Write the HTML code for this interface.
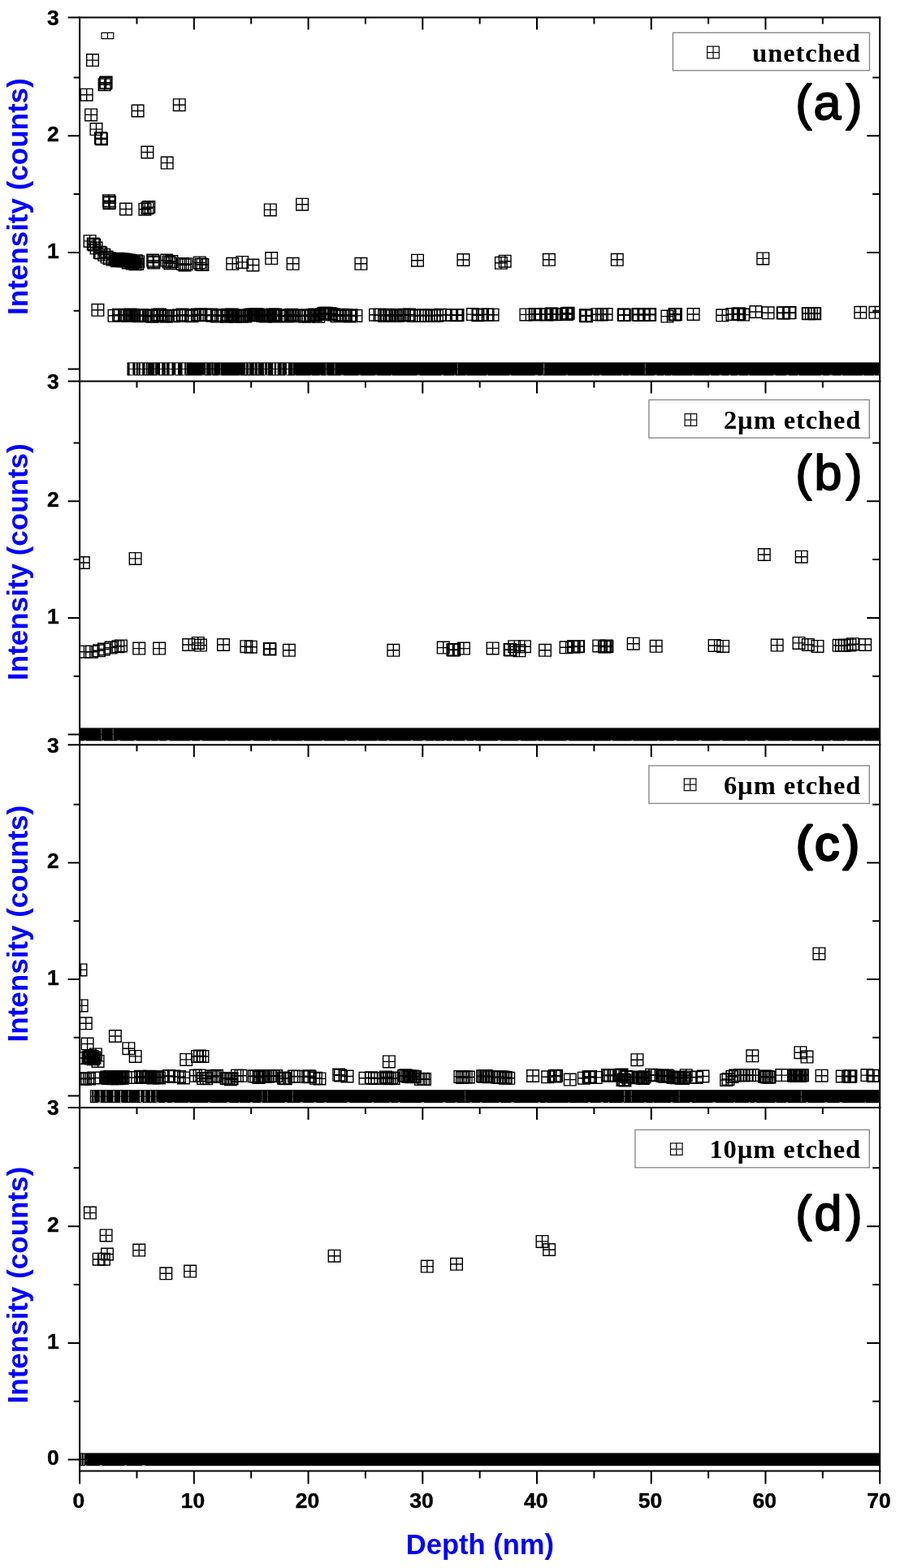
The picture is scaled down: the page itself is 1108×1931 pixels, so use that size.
<!DOCTYPE html>
<html lang="en"><head><meta charset="utf-8"><title>Depth profile</title>
<style>html,body{margin:0;padding:0;background:#fff}svg{display:block}.tk{font-family:"Liberation Sans",Arial,sans-serif;font-weight:bold;font-size:26.5px;fill:#000;stroke:#000;stroke-width:0.4px}.ax{font-family:"Liberation Sans",Arial,sans-serif;font-weight:bold;fill:#0000ff}.lg{font-family:"Liberation Serif","Times New Roman",serif;font-weight:bold;font-size:32.5px;letter-spacing:0.9px;fill:#000}.tg{font-family:"Liberation Sans",Arial,sans-serif;fill:#000;stroke:#000;stroke-linejoin:round}.tgb{font-family:"Liberation Sans",Arial,sans-serif;font-size:64px;font-weight:bold;fill:#000}</style></head><body>
<svg width="1108" height="1931" viewBox="0 0 1108 1931">
<defs><symbol id="m" overflow="visible"><path d="M-7.3-7.3H7.3V7.3H-7.3ZM0-7.3V7.3M-7.3 0H7.3" fill="none" stroke="#000" stroke-width="1.4"/></symbol>
<symbol id="s" overflow="visible"><path d="M-7.3-7.3H7.3V7.3H-7.3ZM0-7.3V7.3M-7.3 0H7.3" fill="none" stroke="#111" stroke-width="1.25"/></symbol>
</defs>
<rect width="1108" height="1931" fill="#fff"/>
<svg x="98.1" y="21.5" width="985.1" height="448.1" viewBox="98.1 21.5 985.1 448.1" overflow="hidden">
<rect x="156.5" y="446.29999999999995" width="927.5" height="16.2" fill="#000"/>
<path d="M125 40.3H139.8V47.6H125ZM132.4 40.3V47.6" fill="none" stroke="#000" stroke-width="1.2"/>
<rect x="159.6" y="447.4" width="3.68" height="6.5" fill="#fff" opacity="1"/>
<rect x="159.6" y="454.9" width="3.68" height="6.5" fill="#fff" opacity="1"/>
<rect x="166.5" y="447.4" width="1.28" height="6.5" fill="#fff" opacity="1"/>
<rect x="166.5" y="454.9" width="1.28" height="6.5" fill="#fff" opacity="1"/>
<rect x="169.7" y="447.4" width="1.04" height="6.5" fill="#fff" opacity="0.7"/>
<rect x="169.7" y="454.9" width="1.04" height="6.5" fill="#fff" opacity="0.7"/>
<rect x="172.8" y="447.4" width="2.32" height="6.5" fill="#fff" opacity="1"/>
<rect x="172.8" y="454.9" width="2.32" height="6.5" fill="#fff" opacity="1"/>
<rect x="178.5" y="447.4" width="1.2" height="6.5" fill="#fff" opacity="1"/>
<rect x="178.5" y="454.9" width="1.2" height="6.5" fill="#fff" opacity="1"/>
<rect x="181.4" y="447.4" width="0.8" height="6.5" fill="#fff" opacity="0.6"/>
<rect x="181.4" y="454.9" width="0.8" height="6.5" fill="#fff" opacity="0.6"/>
<rect x="190.3" y="447.4" width="0.88" height="6.5" fill="#fff" opacity="0.9"/>
<rect x="190.3" y="454.9" width="0.88" height="6.5" fill="#fff" opacity="0.9"/>
<rect x="197.0" y="447.4" width="2.08" height="6.5" fill="#fff" opacity="1"/>
<rect x="197.0" y="454.9" width="2.08" height="6.5" fill="#fff" opacity="1"/>
<rect x="203.7" y="447.4" width="1.12" height="6.5" fill="#fff" opacity="1"/>
<rect x="203.7" y="454.9" width="1.12" height="6.5" fill="#fff" opacity="1"/>
<rect x="208.6" y="447.4" width="2.88" height="6.5" fill="#fff" opacity="1"/>
<rect x="208.6" y="454.9" width="2.88" height="6.5" fill="#fff" opacity="1"/>
<rect x="216.3" y="447.4" width="2.64" height="6.5" fill="#fff" opacity="1"/>
<rect x="216.3" y="454.9" width="2.64" height="6.5" fill="#fff" opacity="1"/>
<rect x="224.5" y="447.4" width="2.64" height="6.5" fill="#fff" opacity="1"/>
<rect x="224.5" y="454.9" width="2.64" height="6.5" fill="#fff" opacity="1"/>
<rect x="228.7" y="447.4" width="0.96" height="6.5" fill="#fff" opacity="0.6"/>
<rect x="228.7" y="454.9" width="0.96" height="6.5" fill="#fff" opacity="0.6"/>
<rect x="253.0" y="447.4" width="1.2" height="6.5" fill="#fff" opacity="0.6"/>
<rect x="253.0" y="454.9" width="1.2" height="6.5" fill="#fff" opacity="0.6"/>
<rect x="259.6" y="447.4" width="0.88" height="6.5" fill="#fff" opacity="0.55"/>
<rect x="259.6" y="454.9" width="0.88" height="6.5" fill="#fff" opacity="0.55"/>
<rect x="262.6" y="447.4" width="0.88" height="6.5" fill="#fff" opacity="0.55"/>
<rect x="262.6" y="454.9" width="0.88" height="6.5" fill="#fff" opacity="0.55"/>
<rect x="270.9" y="447.4" width="0.8" height="6.5" fill="#fff" opacity="0.5"/>
<rect x="270.9" y="454.9" width="0.8" height="6.5" fill="#fff" opacity="0.5"/>
<rect x="302.0" y="447.4" width="1.04" height="6.5" fill="#fff" opacity="0.7"/>
<rect x="302.0" y="454.9" width="1.04" height="6.5" fill="#fff" opacity="0.7"/>
<rect x="306.0" y="447.4" width="1.04" height="6.5" fill="#fff" opacity="0.7"/>
<rect x="306.0" y="454.9" width="1.04" height="6.5" fill="#fff" opacity="0.7"/>
<rect x="312.7" y="447.4" width="1.12" height="6.5" fill="#fff" opacity="0.7"/>
<rect x="312.7" y="454.9" width="1.12" height="6.5" fill="#fff" opacity="0.7"/>
<rect x="316.9" y="447.4" width="1.04" height="6.5" fill="#fff" opacity="0.7"/>
<rect x="316.9" y="454.9" width="1.04" height="6.5" fill="#fff" opacity="0.7"/>
<rect x="324.9" y="447.4" width="1.28" height="6.5" fill="#fff" opacity="0.8"/>
<rect x="324.9" y="454.9" width="1.28" height="6.5" fill="#fff" opacity="0.8"/>
<rect x="329.0" y="447.4" width="1.04" height="6.5" fill="#fff" opacity="0.7"/>
<rect x="329.0" y="454.9" width="1.04" height="6.5" fill="#fff" opacity="0.7"/>
<rect x="336.0" y="447.4" width="1.76" height="6.5" fill="#fff" opacity="0.85"/>
<rect x="336.0" y="454.9" width="1.76" height="6.5" fill="#fff" opacity="0.85"/>
<rect x="340.0" y="447.4" width="1.76" height="6.5" fill="#fff" opacity="0.85"/>
<rect x="340.0" y="454.9" width="1.76" height="6.5" fill="#fff" opacity="0.85"/>
<rect x="346.6" y="447.4" width="1.04" height="6.5" fill="#fff" opacity="0.7"/>
<rect x="346.6" y="454.9" width="1.04" height="6.5" fill="#fff" opacity="0.7"/>
<rect x="352.9" y="447.4" width="2.08" height="6.5" fill="#fff" opacity="0.85"/>
<rect x="352.9" y="454.9" width="2.08" height="6.5" fill="#fff" opacity="0.85"/>
<rect x="360.3" y="447.4" width="0.8" height="6.5" fill="#fff" opacity="0.5"/>
<rect x="360.3" y="454.9" width="0.8" height="6.5" fill="#fff" opacity="0.5"/>
<rect x="400.9" y="447.4" width="0.8" height="6.5" fill="#fff" opacity="0.5"/>
<rect x="400.9" y="454.9" width="0.8" height="6.5" fill="#fff" opacity="0.5"/>
<rect x="411.7" y="447.4" width="0.8" height="6.5" fill="#fff" opacity="0.55"/>
<rect x="411.7" y="454.9" width="0.8" height="6.5" fill="#fff" opacity="0.55"/>
<rect x="562.8" y="447.4" width="0.8" height="6.5" fill="#fff" opacity="0.5"/>
<rect x="562.8" y="454.9" width="0.8" height="6.5" fill="#fff" opacity="0.5"/>
<rect x="669.3" y="447.4" width="0.88" height="6.5" fill="#fff" opacity="0.6"/>
<rect x="669.3" y="454.9" width="0.88" height="6.5" fill="#fff" opacity="0.6"/>
<rect x="793.8" y="447.4" width="0.8" height="6.5" fill="#fff" opacity="0.5"/>
<rect x="793.8" y="454.9" width="0.8" height="6.5" fill="#fff" opacity="0.5"/>
<rect x="162.1" y="461.6" width="2.8" height="1" fill="#fff" opacity="0.7"/>
<rect x="193.0" y="461.6" width="2.5" height="1" fill="#fff" opacity="0.7"/>
<rect x="213.2" y="461.6" width="2.8" height="1" fill="#fff" opacity="0.7"/>
<rect x="225.7" y="461.6" width="2.6" height="1" fill="#fff" opacity="0.7"/>
<rect x="249.0" y="461.6" width="3.4" height="1" fill="#fff" opacity="0.7"/>
<rect x="259.8" y="461.6" width="2.0" height="1" fill="#fff" opacity="0.7"/>
<rect x="269.1" y="461.6" width="3.5" height="1" fill="#fff" opacity="0.7"/>
<rect x="294.9" y="461.6" width="1.3" height="1" fill="#fff" opacity="0.7"/>
<rect x="325.8" y="461.6" width="3.9" height="1" fill="#fff" opacity="0.7"/>
<rect x="351.0" y="461.6" width="2.9" height="1" fill="#fff" opacity="0.7"/>
<rect x="362.9" y="461.6" width="1.2" height="1" fill="#fff" opacity="0.7"/>
<rect x="382.4" y="461.6" width="1.4" height="1" fill="#fff" opacity="0.7"/>
<rect x="393.5" y="461.6" width="1.9" height="1" fill="#fff" opacity="0.7"/>
<rect x="401.1" y="461.6" width="2.5" height="1" fill="#fff" opacity="0.7"/>
<rect x="419.6" y="461.6" width="3.6" height="1" fill="#fff" opacity="0.7"/>
<rect x="441.2" y="461.6" width="3.0" height="1" fill="#fff" opacity="0.7"/>
<rect x="461.6" y="461.6" width="3.1" height="1" fill="#fff" opacity="0.7"/>
<rect x="481.1" y="461.6" width="2.0" height="1" fill="#fff" opacity="0.7"/>
<rect x="513.1" y="461.6" width="4.0" height="1" fill="#fff" opacity="0.7"/>
<rect x="543.0" y="461.6" width="3.2" height="1" fill="#fff" opacity="0.7"/>
<rect x="559.1" y="461.6" width="1.8" height="1" fill="#fff" opacity="0.7"/>
<rect x="573.2" y="461.6" width="1.4" height="1" fill="#fff" opacity="0.7"/>
<rect x="598.7" y="461.6" width="2.3" height="1" fill="#fff" opacity="0.7"/>
<rect x="627.2" y="461.6" width="2.3" height="1" fill="#fff" opacity="0.7"/>
<rect x="658.5" y="461.6" width="3.6" height="1" fill="#fff" opacity="0.7"/>
<rect x="667.0" y="461.6" width="1.8" height="1" fill="#fff" opacity="0.7"/>
<rect x="696.6" y="461.6" width="2.5" height="1" fill="#fff" opacity="0.7"/>
<rect x="728.6" y="461.6" width="2.3" height="1" fill="#fff" opacity="0.7"/>
<rect x="737.7" y="461.6" width="3.0" height="1" fill="#fff" opacity="0.7"/>
<rect x="765.2" y="461.6" width="2.0" height="1" fill="#fff" opacity="0.7"/>
<rect x="774.3" y="461.6" width="2.1" height="1" fill="#fff" opacity="0.7"/>
<rect x="805.5" y="461.6" width="3.3" height="1" fill="#fff" opacity="0.7"/>
<rect x="816.8" y="461.6" width="1.9" height="1" fill="#fff" opacity="0.7"/>
<rect x="826.2" y="461.6" width="1.4" height="1" fill="#fff" opacity="0.7"/>
<rect x="852.5" y="461.6" width="1.7" height="1" fill="#fff" opacity="0.7"/>
<rect x="873.2" y="461.6" width="2.5" height="1" fill="#fff" opacity="0.7"/>
<rect x="885.4" y="461.6" width="3.2" height="1" fill="#fff" opacity="0.7"/>
<rect x="896.9" y="461.6" width="3.0" height="1" fill="#fff" opacity="0.7"/>
<rect x="907.9" y="461.6" width="2.4" height="1" fill="#fff" opacity="0.7"/>
<rect x="920.6" y="461.6" width="2.0" height="1" fill="#fff" opacity="0.7"/>
<rect x="951.8" y="461.6" width="3.4" height="1" fill="#fff" opacity="0.7"/>
<rect x="967.8" y="461.6" width="3.7" height="1" fill="#fff" opacity="0.7"/>
<rect x="981.8" y="461.6" width="2.3" height="1" fill="#fff" opacity="0.7"/>
<rect x="1010.5" y="461.6" width="3.0" height="1" fill="#fff" opacity="0.7"/>
<rect x="1021.0" y="461.6" width="4.0" height="1" fill="#fff" opacity="0.7"/>
<rect x="1035.3" y="461.6" width="1.9" height="1" fill="#fff" opacity="0.7"/>
<rect x="1061.5" y="461.6" width="2.1" height="1" fill="#fff" opacity="0.7"/>
<rect x="1076.0" y="461.6" width="1.4" height="1" fill="#fff" opacity="0.7"/>
<use href="#m" x="114" y="74.1"/>
<use href="#m" x="128.6" y="104.3"/>
<use href="#m" x="130" y="102.6"/>
<use href="#m" x="130.6" y="101.6"/>
<use href="#m" x="106.7" y="116.7"/>
<use href="#m" x="112.1" y="141.4"/>
<use href="#m" x="118.5" y="159.1"/>
<use href="#m" x="124" y="170.2"/>
<use href="#m" x="125" y="171.2"/>
<use href="#m" x="169.6" y="136.5"/>
<use href="#m" x="220.8" y="129.2"/>
<use href="#m" x="181.4" y="187.5"/>
<use href="#m" x="205.7" y="200.6"/>
<use href="#m" x="134" y="247.2"/>
<use href="#m" x="135" y="248.8"/>
<use href="#m" x="134.4" y="250.2"/>
<use href="#m" x="155" y="257.5"/>
<use href="#m" x="178.4" y="257.7"/>
<use href="#m" x="181.6" y="256.3"/>
<use href="#m" x="183.3" y="255.1"/>
<use href="#m" x="332.8" y="258.4"/>
<use href="#m" x="372.1" y="251.7"/>
<use href="#m" x="110.6" y="296.9"/>
<use href="#m" x="114.8" y="300.4"/>
<use href="#m" x="116.2" y="301.6"/>
<use href="#m" x="118.6" y="305.6"/>
<use href="#m" x="122.6" y="310.8"/>
<use href="#m" x="124.2" y="311.4"/>
<use href="#m" x="128.2" y="313.8"/>
<use href="#m" x="131.6" y="316.6"/>
<use href="#m" x="134.7" y="318.2"/>
<use href="#m" x="138.5" y="319.6"/>
<use href="#m" x="141.5" y="319.5"/>
<use href="#m" x="142.8" y="318.9"/>
<use href="#m" x="144.0" y="321.2"/>
<use href="#m" x="145.2" y="318.8"/>
<use href="#m" x="146.5" y="321.0"/>
<use href="#m" x="147.8" y="320.4"/>
<use href="#m" x="149.0" y="319.2"/>
<use href="#m" x="150.2" y="321.3"/>
<use href="#m" x="151.5" y="319.4"/>
<use href="#m" x="152.8" y="321.2"/>
<use href="#m" x="154.0" y="319.8"/>
<use href="#m" x="155.2" y="320.0"/>
<use href="#m" x="156.5" y="321.6"/>
<use href="#m" x="157.8" y="323.5"/>
<use href="#m" x="159.0" y="320.6"/>
<use href="#m" x="160.2" y="321.2"/>
<use href="#m" x="161.5" y="323.1"/>
<use href="#m" x="162.8" y="324.6"/>
<use href="#m" x="164.0" y="323.1"/>
<use href="#m" x="165.2" y="322.5"/>
<use href="#m" x="166.5" y="325.2"/>
<use href="#m" x="167.8" y="321.2"/>
<use href="#m" x="169.0" y="325.0"/>
<use href="#m" x="170.2" y="322.6"/>
<use href="#m" x="188.2" y="320.6"/>
<use href="#m" x="188.8" y="322.2"/>
<use href="#m" x="189.4" y="323.6"/>
<use href="#m" x="205.2" y="320.6"/>
<use href="#m" x="207.6" y="322.6"/>
<use href="#m" x="209.4" y="324.2"/>
<use href="#m" x="211.4" y="322"/>
<use href="#m" x="224.8" y="325"/>
<use href="#m" x="227.4" y="326.4"/>
<use href="#m" x="229.4" y="325.2"/>
<use href="#m" x="245.8" y="323.4"/>
<use href="#m" x="247.6" y="325.4"/>
<use href="#m" x="249.4" y="326"/>
<use href="#m" x="286.2" y="324.8"/>
<use href="#m" x="298.2" y="322.9"/>
<use href="#m" x="311.4" y="326.5"/>
<use href="#m" x="334.2" y="318.1"/>
<use href="#m" x="360.6" y="324.8"/>
<use href="#m" x="444.4" y="324.8"/>
<use href="#m" x="514" y="320.7"/>
<use href="#m" x="570.4" y="320"/>
<use href="#m" x="616.9" y="323.8"/>
<use href="#m" x="621.7" y="321.7"/>
<use href="#m" x="675.9" y="319.8"/>
<use href="#m" x="759.8" y="319.8"/>
<use href="#m" x="939.3" y="318.4"/>
<use href="#m" x="120.4" y="381.8"/>
<use href="#m" x="140.5" y="388.8"/>
<use href="#m" x="146" y="387.8"/>
<use href="#m" x="147.7" y="388.2"/>
<use href="#m" x="153.2" y="387.9"/>
<use href="#m" x="156.8" y="388.9"/>
<use href="#m" x="159.2" y="388.7"/>
<use href="#m" x="160.8" y="387.6"/>
<use href="#m" x="162.7" y="389.0"/>
<use href="#m" x="165.4" y="388.2"/>
<use href="#m" x="169.0" y="388.5"/>
<use href="#m" x="171.1" y="389.2"/>
<use href="#m" x="175.6" y="388.0"/>
<use href="#m" x="179.2" y="388.7"/>
<use href="#m" x="185.3" y="389.1"/>
<use href="#m" x="187.4" y="389.7"/>
<use href="#m" x="189.1" y="388.4"/>
<use href="#m" x="194.0" y="387.8"/>
<use href="#m" x="197.0" y="387.6"/>
<use href="#m" x="201.3" y="389.2"/>
<use href="#m" x="204.8" y="389.4"/>
<use href="#m" x="207.0" y="389.0"/>
<use href="#m" x="210.7" y="388.8"/>
<use href="#m" x="213.5" y="389.3"/>
<use href="#m" x="220.4" y="388.5"/>
<use href="#m" x="224.6" y="387.6"/>
<use href="#m" x="229.1" y="388.9"/>
<use href="#m" x="236.5" y="389.3"/>
<use href="#m" x="238.6" y="388.3"/>
<use href="#m" x="242.8" y="387.5"/>
<use href="#m" x="245.7" y="387.9"/>
<use href="#m" x="247.4" y="387.6"/>
<use href="#m" x="253" y="387.7"/>
<use href="#m" x="254.3" y="388.3"/>
<use href="#m" x="259.5" y="387.6"/>
<use href="#m" x="261.6" y="388.7"/>
<use href="#m" x="266.9" y="389.4"/>
<use href="#m" x="272.0" y="388.1"/>
<use href="#m" x="274.0" y="388.3"/>
<use href="#m" x="279.3" y="389.7"/>
<use href="#m" x="280.4" y="387.8"/>
<use href="#m" x="281.7" y="388.0"/>
<use href="#m" x="284.0" y="388.8"/>
<use href="#m" x="285.4" y="387.4"/>
<use href="#m" x="287.3" y="388.3"/>
<use href="#m" x="290.1" y="389.7"/>
<use href="#m" x="293.7" y="388.6"/>
<use href="#m" x="296.8" y="389.0"/>
<use href="#m" x="297.8" y="389.6"/>
<use href="#m" x="302.2" y="389.5"/>
<use href="#m" x="306.7" y="388.3"/>
<use href="#m" x="308.6" y="387.6"/>
<use href="#m" x="311.8" y="387.5"/>
<use href="#m" x="312.8" y="387.9"/>
<use href="#m" x="313.9" y="388.2"/>
<use href="#m" x="315.0" y="387.4"/>
<use href="#m" x="316.1" y="387.6"/>
<use href="#m" x="317.8" y="387.5"/>
<use href="#m" x="323.0" y="388.9"/>
<use href="#m" x="324.1" y="388.0"/>
<use href="#m" x="325.8" y="388.3"/>
<use href="#m" x="326.9" y="389.4"/>
<use href="#m" x="333.3" y="388.5"/>
<use href="#m" x="335.6" y="387.6"/>
<use href="#m" x="336.6" y="388.2"/>
<use href="#m" x="338.0" y="389.4"/>
<use href="#m" x="339.2" y="387.5"/>
<use href="#m" x="345.1" y="388.7"/>
<use href="#m" x="346.3" y="388.7"/>
<use href="#m" x="347.3" y="388.7"/>
<use href="#m" x="353.5" y="389.5"/>
<use href="#m" x="357.2" y="388.0"/>
<use href="#m" x="358.9" y="387.8"/>
<use href="#m" x="363.2" y="388.7"/>
<use href="#m" x="367.6" y="388.2"/>
<use href="#m" x="368.8" y="389.3"/>
<use href="#m" x="375.2" y="389.4"/>
<use href="#m" x="379.7" y="389.4"/>
<use href="#m" x="383.8" y="387.9"/>
<use href="#m" x="386.2" y="388.3"/>
<use href="#m" x="387.2" y="387.5"/>
<use href="#m" x="388.7" y="388.0"/>
<use href="#m" x="392.3" y="389.7"/>
<use href="#m" x="396.5" y="387.0"/>
<use href="#m" x="398.5" y="386.0"/>
<use href="#m" x="399.7" y="385.8"/>
<use href="#m" x="401.6" y="385.7"/>
<use href="#m" x="404.1" y="386.8"/>
<use href="#m" x="406.4" y="386.2"/>
<use href="#m" x="408.2" y="386.7"/>
<use href="#m" x="411" y="387.5"/>
<use href="#m" x="414.5" y="389.3"/>
<use href="#m" x="419.0" y="389.0"/>
<use href="#m" x="421.4" y="387.7"/>
<use href="#m" x="425.9" y="388.0"/>
<use href="#m" x="430.5" y="389.4"/>
<use href="#m" x="432.5" y="388.2"/>
<use href="#m" x="438.4" y="388.9"/>
<use href="#m" x="462" y="387.7"/>
<use href="#m" x="467.5" y="387.7"/>
<use href="#m" x="473" y="388.9"/>
<use href="#m" x="476" y="388.8"/>
<use href="#m" x="479" y="387.7"/>
<use href="#m" x="482" y="388.8"/>
<use href="#m" x="487" y="389.1"/>
<use href="#m" x="490" y="388.6"/>
<use href="#m" x="492.5" y="388.1"/>
<use href="#m" x="495" y="388.4"/>
<use href="#m" x="498" y="387.7"/>
<use href="#m" x="504" y="387.5"/>
<use href="#m" x="509.5" y="389.1"/>
<use href="#m" x="517" y="388.5"/>
<use href="#m" x="521" y="388.3"/>
<use href="#m" x="525" y="389.0"/>
<use href="#m" x="531" y="388.2"/>
<use href="#m" x="535" y="388.9"/>
<use href="#m" x="538" y="388.8"/>
<use href="#m" x="542" y="387.8"/>
<use href="#m" x="549" y="387.9"/>
<use href="#m" x="556" y="388.0"/>
<use href="#m" x="561.8" y="387.9"/>
<use href="#m" x="562.4" y="388.3"/>
<use href="#m" x="563" y="388.0"/>
<use href="#m" x="563.5" y="388.1"/>
<use href="#m" x="582" y="387.1"/>
<use href="#m" x="588.4" y="388.2"/>
<use href="#m" x="594" y="387.4"/>
<use href="#m" x="600.6" y="387.5"/>
<use href="#m" x="606.6" y="387.7"/>
<use href="#m" x="647.4" y="387.4"/>
<use href="#m" x="659.3" y="387.1"/>
<use href="#m" x="659.3" y="387.2"/>
<use href="#m" x="658.6" y="387.2"/>
<use href="#m" x="664.5" y="387"/>
<use href="#m" x="673.5" y="387.4"/>
<use href="#m" x="684.5" y="387.2"/>
<use href="#m" x="678.2" y="387.0"/>
<use href="#m" x="678.5" y="386.6"/>
<use href="#m" x="679.5" y="386.7"/>
<use href="#m" x="697.8" y="386.8"/>
<use href="#m" x="698.3" y="386.1"/>
<use href="#m" x="698.1" y="386.5"/>
<use href="#m" x="699.7" y="385.7"/>
<use href="#m" x="698.4" y="385.9"/>
<use href="#m" x="696.7" y="386.9"/>
<use href="#m" x="698.0" y="386.5"/>
<use href="#m" x="722.1" y="389.2"/>
<use href="#m" x="720.8" y="388.8"/>
<use href="#m" x="721.0" y="388.6"/>
<use href="#m" x="721.8" y="388.5"/>
<use href="#m" x="721.1" y="388.6"/>
<use href="#m" x="735.6" y="387.2"/>
<use href="#m" x="741" y="387.5"/>
<use href="#m" x="746.6" y="387"/>
<use href="#m" x="768.6" y="387.8"/>
<use href="#m" x="768.5" y="388.0"/>
<use href="#m" x="767.7" y="387.6"/>
<use href="#m" x="786.7" y="387.9"/>
<use href="#m" x="785.4" y="387.3"/>
<use href="#m" x="785.9" y="387.3"/>
<use href="#m" x="799.2" y="387.3"/>
<use href="#m" x="799.9" y="387.8"/>
<use href="#m" x="800.2" y="387.3"/>
<use href="#m" x="792.5" y="387.8"/>
<use href="#m" x="821.4" y="389.6"/>
<use href="#m" x="831.4" y="387.3"/>
<use href="#m" x="830.4" y="387.5"/>
<use href="#m" x="831.8" y="387.0"/>
<use href="#m" x="831.8" y="387.1"/>
<use href="#m" x="853.6" y="387"/>
<use href="#m" x="889.2" y="388.3"/>
<use href="#m" x="901.4" y="387"/>
<use href="#m" x="908.6" y="386.6"/>
<use href="#m" x="909.5" y="387"/>
<use href="#m" x="910.4" y="386.4"/>
<use href="#m" x="915" y="387.6"/>
<use href="#m" x="930.4" y="384"/>
<use href="#m" x="945.6" y="385.3"/>
<use href="#m" x="963.7" y="385.2"/>
<use href="#m" x="964.6" y="385.5"/>
<use href="#m" x="971.8" y="385.3"/>
<use href="#m" x="972.5" y="385.1"/>
<use href="#m" x="994.8" y="386"/>
<use href="#m" x="995.6" y="386.3"/>
<use href="#m" x="1002.4" y="386"/>
<use href="#m" x="1003.2" y="386.2"/>
<use href="#m" x="998.9" y="386.1"/>
<use href="#m" x="1059.3" y="384.8"/>
<use href="#m" x="1077.4" y="384.8"/>
</svg>
<svg x="98.1" y="469.6" width="985.1" height="447.6" viewBox="98.1 469.6 985.1 447.6" overflow="hidden">
<rect x="97" y="896.4" width="987" height="16" fill="#000"/>
<rect x="124.4" y="897.5" width="0.8" height="6.4" fill="#fff" opacity="0.55"/>
<rect x="124.4" y="904.9" width="0.8" height="6.4" fill="#fff" opacity="0.55"/>
<rect x="138.8" y="897.5" width="0.8" height="6.4" fill="#fff" opacity="0.55"/>
<rect x="138.8" y="904.9" width="0.8" height="6.4" fill="#fff" opacity="0.55"/>
<rect x="103.7" y="911.5" width="1.9" height="1" fill="#fff" opacity="0.7"/>
<rect x="125.6" y="911.5" width="2.2" height="1" fill="#fff" opacity="0.7"/>
<rect x="144.1" y="911.5" width="3.9" height="1" fill="#fff" opacity="0.7"/>
<rect x="165.1" y="911.5" width="2.8" height="1" fill="#fff" opacity="0.7"/>
<rect x="194.6" y="911.5" width="1.7" height="1" fill="#fff" opacity="0.7"/>
<rect x="205.2" y="911.5" width="3.7" height="1" fill="#fff" opacity="0.7"/>
<rect x="234.3" y="911.5" width="1.9" height="1" fill="#fff" opacity="0.7"/>
<rect x="246.0" y="911.5" width="3.3" height="1" fill="#fff" opacity="0.7"/>
<rect x="277.8" y="911.5" width="1.8" height="1" fill="#fff" opacity="0.7"/>
<rect x="308.3" y="911.5" width="3.7" height="1" fill="#fff" opacity="0.7"/>
<rect x="332.0" y="911.5" width="2.4" height="1" fill="#fff" opacity="0.7"/>
<rect x="342.0" y="911.5" width="1.3" height="1" fill="#fff" opacity="0.7"/>
<rect x="372.4" y="911.5" width="1.9" height="1" fill="#fff" opacity="0.7"/>
<rect x="396.9" y="911.5" width="1.9" height="1" fill="#fff" opacity="0.7"/>
<rect x="424.4" y="911.5" width="2.9" height="1" fill="#fff" opacity="0.7"/>
<rect x="439.6" y="911.5" width="1.7" height="1" fill="#fff" opacity="0.7"/>
<rect x="464.3" y="911.5" width="1.4" height="1" fill="#fff" opacity="0.7"/>
<rect x="476.4" y="911.5" width="2.8" height="1" fill="#fff" opacity="0.7"/>
<rect x="505.5" y="911.5" width="2.9" height="1" fill="#fff" opacity="0.7"/>
<rect x="520.4" y="911.5" width="3.8" height="1" fill="#fff" opacity="0.7"/>
<rect x="534.3" y="911.5" width="1.2" height="1" fill="#fff" opacity="0.7"/>
<rect x="547.2" y="911.5" width="2.4" height="1" fill="#fff" opacity="0.7"/>
<rect x="556.2" y="911.5" width="1.7" height="1" fill="#fff" opacity="0.7"/>
<rect x="572.1" y="911.5" width="2.8" height="1" fill="#fff" opacity="0.7"/>
<rect x="583.2" y="911.5" width="2.2" height="1" fill="#fff" opacity="0.7"/>
<rect x="612.7" y="911.5" width="3.9" height="1" fill="#fff" opacity="0.7"/>
<rect x="638.1" y="911.5" width="3.1" height="1" fill="#fff" opacity="0.7"/>
<rect x="660.8" y="911.5" width="1.6" height="1" fill="#fff" opacity="0.7"/>
<rect x="668.3" y="911.5" width="1.3" height="1" fill="#fff" opacity="0.7"/>
<rect x="697.3" y="911.5" width="3.2" height="1" fill="#fff" opacity="0.7"/>
<rect x="729.5" y="911.5" width="1.3" height="1" fill="#fff" opacity="0.7"/>
<rect x="751.7" y="911.5" width="2.6" height="1" fill="#fff" opacity="0.7"/>
<rect x="777.5" y="911.5" width="2.1" height="1" fill="#fff" opacity="0.7"/>
<rect x="809.6" y="911.5" width="1.4" height="1" fill="#fff" opacity="0.7"/>
<rect x="829.6" y="911.5" width="3.3" height="1" fill="#fff" opacity="0.7"/>
<rect x="860.4" y="911.5" width="3.3" height="1" fill="#fff" opacity="0.7"/>
<rect x="886.3" y="911.5" width="3.4" height="1" fill="#fff" opacity="0.7"/>
<rect x="917.5" y="911.5" width="2.2" height="1" fill="#fff" opacity="0.7"/>
<rect x="941.9" y="911.5" width="3.7" height="1" fill="#fff" opacity="0.7"/>
<rect x="972.4" y="911.5" width="2.4" height="1" fill="#fff" opacity="0.7"/>
<rect x="999.5" y="911.5" width="3.6" height="1" fill="#fff" opacity="0.7"/>
<rect x="1022.4" y="911.5" width="2.9" height="1" fill="#fff" opacity="0.7"/>
<rect x="1039.9" y="911.5" width="2.8" height="1" fill="#fff" opacity="0.7"/>
<rect x="1063.0" y="911.5" width="1.4" height="1" fill="#fff" opacity="0.7"/>
<use href="#m" x="102.8" y="693"/>
<use href="#m" x="166.6" y="687.9"/>
<use href="#m" x="940.8" y="683"/>
<use href="#m" x="986.7" y="685.7"/>
<use href="#m" x="103.5" y="802.7"/>
<use href="#m" x="113" y="802.7"/>
<use href="#m" x="122" y="801.3"/>
<use href="#m" x="127.9" y="799.5"/>
<use href="#m" x="136.6" y="797.6"/>
<use href="#m" x="145.5" y="796.2"/>
<use href="#m" x="149" y="795.4"/>
<use href="#m" x="171.2" y="798.6"/>
<use href="#m" x="196.1" y="798.6"/>
<use href="#m" x="232.2" y="794"/>
<use href="#m" x="243.8" y="791.9"/>
<use href="#m" x="247" y="794.6"/>
<use href="#m" x="275" y="794"/>
<use href="#m" x="303.4" y="796.2"/>
<use href="#m" x="308.8" y="796.7"/>
<use href="#m" x="331.8" y="798.9"/>
<use href="#m" x="332.5" y="799.5"/>
<use href="#m" x="355.9" y="800.8"/>
<use href="#m" x="484.3" y="800.8"/>
<use href="#m" x="545.7" y="797.6"/>
<use href="#m" x="557.4" y="800.3"/>
<use href="#m" x="558.5" y="800.6"/>
<use href="#m" x="559.2" y="800"/>
<use href="#m" x="570.9" y="798.6"/>
<use href="#m" x="606.6" y="798.4"/>
<use href="#m" x="627.6" y="800"/>
<use href="#m" x="628.6" y="800.4"/>
<use href="#m" x="633.2" y="796.2"/>
<use href="#m" x="639.4" y="801.3"/>
<use href="#m" x="645.9" y="796.2"/>
<use href="#m" x="671" y="800.8"/>
<use href="#m" x="696.6" y="797.3"/>
<use href="#m" x="706" y="796.2"/>
<use href="#m" x="706.8" y="796.6"/>
<use href="#m" x="711.4" y="796.2"/>
<use href="#m" x="712" y="796"/>
<use href="#m" x="737.2" y="795.4"/>
<use href="#m" x="743.9" y="796.2"/>
<use href="#m" x="745" y="796.6"/>
<use href="#m" x="746.7" y="795.4"/>
<use href="#m" x="747.4" y="796"/>
<use href="#m" x="779.7" y="792.7"/>
<use href="#m" x="807.7" y="795.8"/>
<use href="#m" x="879.6" y="795"/>
<use href="#m" x="890.1" y="795.9"/>
<use href="#m" x="956.7" y="794.6"/>
<use href="#m" x="983.5" y="791.9"/>
<use href="#m" x="994.8" y="794"/>
<use href="#m" x="1006.5" y="795.9"/>
<use href="#m" x="1032.7" y="794.8"/>
<use href="#m" x="1036" y="795"/>
<use href="#m" x="1039.5" y="794.8"/>
<use href="#m" x="1046.5" y="794.4"/>
<use href="#m" x="1049.8" y="793.2"/>
<use href="#m" x="1065.2" y="794"/>
</svg>
<svg x="98.1" y="917.2" width="985.1" height="446.8" viewBox="98.1 917.2 985.1 446.8" overflow="hidden">
<rect x="110.8" y="1342.2" width="973.2" height="16" fill="#000"/>
<rect x="112.2" y="1343.3" width="0.81" height="6.4" fill="#fff" opacity="0.8"/>
<rect x="112.2" y="1350.7" width="0.81" height="6.4" fill="#fff" opacity="0.8"/>
<rect x="115.4" y="1343.3" width="0.81" height="6.4" fill="#fff" opacity="0.8"/>
<rect x="115.4" y="1350.7" width="0.81" height="6.4" fill="#fff" opacity="0.8"/>
<rect x="122.7" y="1343.3" width="0.93" height="6.4" fill="#fff" opacity="0.85"/>
<rect x="122.7" y="1350.7" width="0.93" height="6.4" fill="#fff" opacity="0.85"/>
<rect x="130.2" y="1343.3" width="0.81" height="6.4" fill="#fff" opacity="0.8"/>
<rect x="130.2" y="1350.7" width="0.81" height="6.4" fill="#fff" opacity="0.8"/>
<rect x="139.5" y="1343.3" width="1.18" height="6.4" fill="#fff" opacity="0.9"/>
<rect x="139.5" y="1350.7" width="1.18" height="6.4" fill="#fff" opacity="0.9"/>
<rect x="148.2" y="1343.3" width="0.93" height="6.4" fill="#fff" opacity="0.85"/>
<rect x="148.2" y="1350.7" width="0.93" height="6.4" fill="#fff" opacity="0.85"/>
<rect x="157.8" y="1343.3" width="0.74" height="6.4" fill="#fff" opacity="0.8"/>
<rect x="157.8" y="1350.7" width="0.74" height="6.4" fill="#fff" opacity="0.8"/>
<rect x="172.2" y="1343.3" width="1.18" height="6.4" fill="#fff" opacity="0.9"/>
<rect x="172.2" y="1350.7" width="1.18" height="6.4" fill="#fff" opacity="0.9"/>
<rect x="178.0" y="1343.3" width="0.93" height="6.4" fill="#fff" opacity="0.85"/>
<rect x="178.0" y="1350.7" width="0.93" height="6.4" fill="#fff" opacity="0.85"/>
<rect x="184.8" y="1343.3" width="0.93" height="6.4" fill="#fff" opacity="0.85"/>
<rect x="184.8" y="1350.7" width="0.93" height="6.4" fill="#fff" opacity="0.85"/>
<rect x="191.6" y="1343.3" width="0.74" height="6.4" fill="#fff" opacity="0.8"/>
<rect x="191.6" y="1350.7" width="0.74" height="6.4" fill="#fff" opacity="0.8"/>
<rect x="322.6" y="1343.3" width="0.62" height="6.4" fill="#fff" opacity="0.5"/>
<rect x="322.6" y="1350.7" width="0.62" height="6.4" fill="#fff" opacity="0.5"/>
<rect x="329.4" y="1343.3" width="0.62" height="6.4" fill="#fff" opacity="0.5"/>
<rect x="329.4" y="1350.7" width="0.62" height="6.4" fill="#fff" opacity="0.5"/>
<rect x="360.0" y="1343.3" width="0.62" height="6.4" fill="#fff" opacity="0.55"/>
<rect x="360.0" y="1350.7" width="0.62" height="6.4" fill="#fff" opacity="0.55"/>
<rect x="572.1" y="1343.3" width="0.62" height="6.4" fill="#fff" opacity="0.5"/>
<rect x="572.1" y="1350.7" width="0.62" height="6.4" fill="#fff" opacity="0.5"/>
<rect x="768.5" y="1343.3" width="0.74" height="6.4" fill="#fff" opacity="0.7"/>
<rect x="768.5" y="1350.7" width="0.74" height="6.4" fill="#fff" opacity="0.7"/>
<rect x="776.8" y="1343.3" width="0.68" height="6.4" fill="#fff" opacity="0.6"/>
<rect x="776.8" y="1350.7" width="0.68" height="6.4" fill="#fff" opacity="0.6"/>
<rect x="835.8" y="1343.3" width="0.62" height="6.4" fill="#fff" opacity="0.5"/>
<rect x="835.8" y="1350.7" width="0.62" height="6.4" fill="#fff" opacity="0.5"/>
<rect x="985.9" y="1343.3" width="0.62" height="6.4" fill="#fff" opacity="0.6"/>
<rect x="985.9" y="1350.7" width="0.62" height="6.4" fill="#fff" opacity="0.6"/>
<rect x="120.7" y="1357.3" width="3.7" height="1" fill="#fff" opacity="0.7"/>
<rect x="147.6" y="1357.3" width="2.3" height="1" fill="#fff" opacity="0.7"/>
<rect x="173.3" y="1357.3" width="2.8" height="1" fill="#fff" opacity="0.7"/>
<rect x="192.1" y="1357.3" width="3.5" height="1" fill="#fff" opacity="0.7"/>
<rect x="202.8" y="1357.3" width="3.3" height="1" fill="#fff" opacity="0.7"/>
<rect x="211.8" y="1357.3" width="2.9" height="1" fill="#fff" opacity="0.7"/>
<rect x="231.7" y="1357.3" width="1.8" height="1" fill="#fff" opacity="0.7"/>
<rect x="256.0" y="1357.3" width="2.6" height="1" fill="#fff" opacity="0.7"/>
<rect x="279.0" y="1357.3" width="3.8" height="1" fill="#fff" opacity="0.7"/>
<rect x="294.1" y="1357.3" width="1.2" height="1" fill="#fff" opacity="0.7"/>
<rect x="307.9" y="1357.3" width="3.1" height="1" fill="#fff" opacity="0.7"/>
<rect x="321.1" y="1357.3" width="1.7" height="1" fill="#fff" opacity="0.7"/>
<rect x="350.4" y="1357.3" width="3.0" height="1" fill="#fff" opacity="0.7"/>
<rect x="369.5" y="1357.3" width="3.7" height="1" fill="#fff" opacity="0.7"/>
<rect x="386.3" y="1357.3" width="3.1" height="1" fill="#fff" opacity="0.7"/>
<rect x="399.4" y="1357.3" width="2.4" height="1" fill="#fff" opacity="0.7"/>
<rect x="426.9" y="1357.3" width="3.8" height="1" fill="#fff" opacity="0.7"/>
<rect x="457.7" y="1357.3" width="2.3" height="1" fill="#fff" opacity="0.7"/>
<rect x="479.6" y="1357.3" width="2.1" height="1" fill="#fff" opacity="0.7"/>
<rect x="490.0" y="1357.3" width="2.6" height="1" fill="#fff" opacity="0.7"/>
<rect x="518.6" y="1357.3" width="3.6" height="1" fill="#fff" opacity="0.7"/>
<rect x="544.9" y="1357.3" width="3.9" height="1" fill="#fff" opacity="0.7"/>
<rect x="560.7" y="1357.3" width="1.7" height="1" fill="#fff" opacity="0.7"/>
<rect x="578.6" y="1357.3" width="2.0" height="1" fill="#fff" opacity="0.7"/>
<rect x="591.0" y="1357.3" width="2.4" height="1" fill="#fff" opacity="0.7"/>
<rect x="614.0" y="1357.3" width="2.6" height="1" fill="#fff" opacity="0.7"/>
<rect x="629.4" y="1357.3" width="3.5" height="1" fill="#fff" opacity="0.7"/>
<rect x="662.5" y="1357.3" width="2.5" height="1" fill="#fff" opacity="0.7"/>
<rect x="671.9" y="1357.3" width="1.3" height="1" fill="#fff" opacity="0.7"/>
<rect x="700.0" y="1357.3" width="1.3" height="1" fill="#fff" opacity="0.7"/>
<rect x="724.0" y="1357.3" width="2.8" height="1" fill="#fff" opacity="0.7"/>
<rect x="739.5" y="1357.3" width="3.4" height="1" fill="#fff" opacity="0.7"/>
<rect x="748.4" y="1357.3" width="1.6" height="1" fill="#fff" opacity="0.7"/>
<rect x="766.4" y="1357.3" width="1.3" height="1" fill="#fff" opacity="0.7"/>
<rect x="793.4" y="1357.3" width="1.9" height="1" fill="#fff" opacity="0.7"/>
<rect x="803.8" y="1357.3" width="1.3" height="1" fill="#fff" opacity="0.7"/>
<rect x="825.8" y="1357.3" width="2.5" height="1" fill="#fff" opacity="0.7"/>
<rect x="849.0" y="1357.3" width="3.0" height="1" fill="#fff" opacity="0.7"/>
<rect x="877.3" y="1357.3" width="3.9" height="1" fill="#fff" opacity="0.7"/>
<rect x="903.2" y="1357.3" width="1.8" height="1" fill="#fff" opacity="0.7"/>
<rect x="921.9" y="1357.3" width="1.7" height="1" fill="#fff" opacity="0.7"/>
<rect x="928.9" y="1357.3" width="2.5" height="1" fill="#fff" opacity="0.7"/>
<rect x="954.2" y="1357.3" width="1.7" height="1" fill="#fff" opacity="0.7"/>
<rect x="967.7" y="1357.3" width="2.2" height="1" fill="#fff" opacity="0.7"/>
<rect x="992.3" y="1357.3" width="2.7" height="1" fill="#fff" opacity="0.7"/>
<rect x="1015.4" y="1357.3" width="3.3" height="1" fill="#fff" opacity="0.7"/>
<rect x="1033.5" y="1357.3" width="3.4" height="1" fill="#fff" opacity="0.7"/>
<rect x="1064.6" y="1357.3" width="1.4" height="1" fill="#fff" opacity="0.7"/>
<use href="#m" x="99.5" y="1194.4"/>
<use href="#m" x="100.7" y="1238.4"/>
<use href="#m" x="105.8" y="1260.3"/>
<use href="#m" x="107.6" y="1285.5"/>
<use href="#m" x="141.9" y="1276"/>
<use href="#m" x="158.4" y="1291.2"/>
<use href="#m" x="166.7" y="1300.9"/>
<use href="#m" x="103.6" y="1303"/>
<use href="#m" x="108.5" y="1302.4"/>
<use href="#m" x="110" y="1302"/>
<use href="#m" x="112" y="1303.5"/>
<use href="#m" x="113.5" y="1301"/>
<use href="#m" x="115" y="1304.2"/>
<use href="#m" x="116.5" y="1302.5"/>
<use href="#m" x="117.9" y="1298.4"/>
<use href="#m" x="120.6" y="1306.9"/>
<use href="#m" x="111" y="1300.4"/>
<use href="#m" x="229.2" y="1304.9"/>
<use href="#m" x="243" y="1301"/>
<use href="#m" x="246" y="1300.5"/>
<use href="#m" x="249.5" y="1301"/>
<use href="#m" x="478.9" y="1307.4"/>
<use href="#m" x="784.4" y="1305.2"/>
<use href="#m" x="926.3" y="1300.3"/>
<use href="#m" x="985.4" y="1296.2"/>
<use href="#m" x="993.5" y="1301.6"/>
<use href="#m" x="1008.4" y="1174.4"/>
<use href="#m" x="100" y="1328.0"/>
<use href="#m" x="105" y="1328.8"/>
<use href="#m" x="110" y="1328.5"/>
<use href="#m" x="115.5" y="1327.5"/>
<use href="#m" x="130.5" y="1327.3"/>
<use href="#m" x="131.5" y="1326.4"/>
<use href="#m" x="132.6" y="1328.0"/>
<use href="#m" x="133.5" y="1327.5"/>
<use href="#m" x="134.9" y="1325.9"/>
<use href="#m" x="135.9" y="1327.7"/>
<use href="#m" x="137.1" y="1326.0"/>
<use href="#m" x="138.5" y="1328.2"/>
<use href="#m" x="139.6" y="1326.1"/>
<use href="#m" x="140.2" y="1325.9"/>
<use href="#m" x="141.7" y="1326.6"/>
<use href="#m" x="142.4" y="1327.1"/>
<use href="#m" x="144.0" y="1328.3"/>
<use href="#m" x="144.6" y="1326.2"/>
<use href="#m" x="146.2" y="1327.5"/>
<use href="#m" x="147.1" y="1326.1"/>
<use href="#m" x="147.8" y="1327.9"/>
<use href="#m" x="149.2" y="1326.0"/>
<use href="#m" x="150.6" y="1327.7"/>
<use href="#m" x="151.6" y="1326.1"/>
<use href="#m" x="162" y="1327"/>
<use href="#m" x="172.9" y="1325.8"/>
<use href="#m" x="174.9" y="1326.7"/>
<use href="#m" x="176.3" y="1326.9"/>
<use href="#m" x="179.0" y="1326.2"/>
<use href="#m" x="180.1" y="1326.9"/>
<use href="#m" x="182.2" y="1325.9"/>
<use href="#m" x="184.1" y="1325.7"/>
<use href="#m" x="186.1" y="1326.3"/>
<use href="#m" x="188.3" y="1327.4"/>
<use href="#m" x="190.2" y="1326.8"/>
<use href="#m" x="192.1" y="1326.4"/>
<use href="#m" x="193.9" y="1326.2"/>
<use href="#m" x="195.9" y="1327.4"/>
<use href="#m" x="208.1" y="1325.0"/>
<use href="#m" x="208.0" y="1325.5"/>
<use href="#m" x="213.8" y="1325.9"/>
<use href="#m" x="214.4" y="1325.6"/>
<use href="#m" x="221" y="1326"/>
<use href="#m" x="226" y="1327.4"/>
<use href="#m" x="241" y="1324.8"/>
<use href="#m" x="245.5" y="1324.4"/>
<use href="#m" x="250" y="1328.0"/>
<use href="#m" x="254" y="1328.2"/>
<use href="#m" x="259.8" y="1325.3"/>
<use href="#m" x="262.4" y="1326.0"/>
<use href="#m" x="264.8" y="1325.4"/>
<use href="#m" x="267.1" y="1324.8"/>
<use href="#m" x="278.6" y="1327.9"/>
<use href="#m" x="280.8" y="1328.2"/>
<use href="#m" x="281.9" y="1327.9"/>
<use href="#m" x="284.1" y="1329.2"/>
<use href="#m" x="285.6" y="1328.3"/>
<use href="#m" x="292" y="1324.7"/>
<use href="#m" x="296.5" y="1324.8"/>
<use href="#m" x="312.9" y="1325.3"/>
<use href="#m" x="315.3" y="1325.5"/>
<use href="#m" x="318.5" y="1326.9"/>
<use href="#m" x="320.3" y="1325.5"/>
<use href="#m" x="323.3" y="1325.6"/>
<use href="#m" x="324.8" y="1325.0"/>
<use href="#m" x="327.2" y="1325.9"/>
<use href="#m" x="329.8" y="1325.4"/>
<use href="#m" x="332.2" y="1325.0"/>
<use href="#m" x="336.5" y="1325.3"/>
<use href="#m" x="340" y="1325.1"/>
<use href="#m" x="348.9" y="1327.6"/>
<use href="#m" x="350.1" y="1327.9"/>
<use href="#m" x="351.8" y="1328.3"/>
<use href="#m" x="362" y="1325.5"/>
<use href="#m" x="366.5" y="1325.8"/>
<use href="#m" x="379.1" y="1325.8"/>
<use href="#m" x="380.7" y="1325.3"/>
<use href="#m" x="381.7" y="1326.2"/>
<use href="#m" x="389" y="1327.8"/>
<use href="#m" x="393.5" y="1328.4"/>
<use href="#m" x="417.2" y="1323.6"/>
<use href="#m" x="419" y="1324.4"/>
<use href="#m" x="427.5" y="1325.5"/>
<use href="#m" x="449.5" y="1327.8"/>
<use href="#m" x="457.3" y="1327.2"/>
<use href="#m" x="461" y="1328.0"/>
<use href="#m" x="464.5" y="1328.1"/>
<use href="#m" x="472.2" y="1328.1"/>
<use href="#m" x="474.8" y="1326.4"/>
<use href="#m" x="476.8" y="1327.4"/>
<use href="#m" x="479.7" y="1328.3"/>
<use href="#m" x="482.1" y="1327.6"/>
<use href="#m" x="484.6" y="1327.9"/>
<use href="#m" x="497.2" y="1324.9"/>
<use href="#m" x="498.1" y="1324.6"/>
<use href="#m" x="500.1" y="1324.6"/>
<use href="#m" x="502.1" y="1325.6"/>
<use href="#m" x="503.5" y="1325.8"/>
<use href="#m" x="505.2" y="1325.5"/>
<use href="#m" x="506.1" y="1326.2"/>
<use href="#m" x="508.4" y="1325.5"/>
<use href="#m" x="509.8" y="1325.9"/>
<use href="#m" x="511.0" y="1326.1"/>
<use href="#m" x="518" y="1329.1"/>
<use href="#m" x="521" y="1328.8"/>
<use href="#m" x="523" y="1329.1"/>
<use href="#m" x="566.4" y="1325.9"/>
<use href="#m" x="569.0" y="1327.0"/>
<use href="#m" x="571.2" y="1326.1"/>
<use href="#m" x="573.8" y="1326.6"/>
<use href="#m" x="576.8" y="1326.5"/>
<use href="#m" x="594.1" y="1325.2"/>
<use href="#m" x="595.2" y="1325.6"/>
<use href="#m" x="597.2" y="1325.6"/>
<use href="#m" x="598.6" y="1325.1"/>
<use href="#m" x="599.6" y="1325.6"/>
<use href="#m" x="601.7" y="1326.3"/>
<use href="#m" x="612.2" y="1326.6"/>
<use href="#m" x="614.3" y="1326.9"/>
<use href="#m" x="616.6" y="1326.3"/>
<use href="#m" x="619.4" y="1326.5"/>
<use href="#m" x="621.9" y="1327.8"/>
<use href="#m" x="622.8" y="1326.9"/>
<use href="#m" x="626.2" y="1327.8"/>
<use href="#m" x="656" y="1325"/>
<use href="#m" x="674.2" y="1326.3"/>
<use href="#m" x="682.5" y="1325"/>
<use href="#m" x="684" y="1325.4"/>
<use href="#m" x="685" y="1324.8"/>
<use href="#m" x="701.8" y="1329.6"/>
<use href="#m" x="718.8" y="1327.7"/>
<use href="#m" x="724.6" y="1326.3"/>
<use href="#m" x="726" y="1326.6"/>
<use href="#m" x="727" y="1326"/>
<use href="#m" x="733.7" y="1326.9"/>
<use href="#m" x="747.9" y="1323.9"/>
<use href="#m" x="749.6" y="1324.8"/>
<use href="#m" x="751.5" y="1324.3"/>
<use href="#m" x="762" y="1324"/>
<use href="#m" x="764" y="1324.6"/>
<use href="#m" x="765.5" y="1323.6"/>
<use href="#m" x="766.5" y="1330"/>
<use href="#m" x="768" y="1329.4"/>
<use href="#m" x="769.5" y="1330.4"/>
<use href="#m" x="771" y="1326"/>
<use href="#m" x="772.5" y="1326.6"/>
<use href="#m" x="785.7" y="1327.2"/>
<use href="#m" x="787.9" y="1326.5"/>
<use href="#m" x="789.3" y="1327.2"/>
<use href="#m" x="790.8" y="1327.6"/>
<use href="#m" x="791.8" y="1327.9"/>
<use href="#m" x="793.5" y="1326.3"/>
<use href="#m" x="802" y="1323.7"/>
<use href="#m" x="806" y="1324.2"/>
<use href="#m" x="815.0" y="1324.7"/>
<use href="#m" x="816.1" y="1324.8"/>
<use href="#m" x="817.6" y="1325.5"/>
<use href="#m" x="818.8" y="1325.4"/>
<use href="#m" x="820.9" y="1324.4"/>
<use href="#m" x="822.4" y="1325.3"/>
<use href="#m" x="828.5" y="1326.9"/>
<use href="#m" x="830.0" y="1327.0"/>
<use href="#m" x="833.1" y="1327.3"/>
<use href="#m" x="834.4" y="1327.1"/>
<use href="#m" x="836.5" y="1326.5"/>
<use href="#m" x="838.5" y="1327.7"/>
<use href="#m" x="840.9" y="1327.9"/>
<use href="#m" x="844.7" y="1324.2"/>
<use href="#m" x="849.5" y="1326.4"/>
<use href="#m" x="857.7" y="1326.9"/>
<use href="#m" x="865.5" y="1325.5"/>
<use href="#m" x="894.1" y="1330.1"/>
<use href="#m" x="896.5" y="1329"/>
<use href="#m" x="901.4" y="1326"/>
<use href="#m" x="905" y="1324.6"/>
<use href="#m" x="910.9" y="1324.1"/>
<use href="#m" x="915" y="1324.3"/>
<use href="#m" x="919" y="1324.1"/>
<use href="#m" x="923" y="1324.3"/>
<use href="#m" x="927.1" y="1324.1"/>
<use href="#m" x="940.8" y="1325.7"/>
<use href="#m" x="942.6" y="1325.6"/>
<use href="#m" x="944.1" y="1326.6"/>
<use href="#m" x="946.2" y="1326.4"/>
<use href="#m" x="947.5" y="1326.6"/>
<use href="#m" x="962.3" y="1324.1"/>
<use href="#m" x="977.3" y="1324.8"/>
<use href="#m" x="978.4" y="1323.9"/>
<use href="#m" x="979.6" y="1324.6"/>
<use href="#m" x="980.8" y="1325.0"/>
<use href="#m" x="981.6" y="1323.9"/>
<use href="#m" x="983.3" y="1324.0"/>
<use href="#m" x="984.2" y="1324.4"/>
<use href="#m" x="985.3" y="1325.1"/>
<use href="#m" x="986.9" y="1324.3"/>
<use href="#m" x="987.9" y="1324.3"/>
<use href="#m" x="1011.6" y="1324.7"/>
<use href="#m" x="1036.8" y="1325.5"/>
<use href="#m" x="1045.5" y="1325.5"/>
<use href="#m" x="1046.6" y="1325.8"/>
<use href="#m" x="1047.4" y="1325.2"/>
<use href="#m" x="1067.4" y="1324.1"/>
<use href="#m" x="1074.5" y="1324.7"/>
<use href="#m" x="1076.2" y="1324.9"/>
</svg>
<svg x="98.1" y="1364.0" width="985.1" height="447.6" viewBox="98.1 1364.0 985.1 447.6" overflow="hidden">
<rect x="97" y="1789.3999999999999" width="987" height="15.8" fill="#000"/>
<rect x="99.7" y="1790.5" width="1.04" height="6.3" fill="#fff" opacity="0.75"/>
<rect x="99.7" y="1797.8" width="1.04" height="6.3" fill="#fff" opacity="0.75"/>
<rect x="102.7" y="1790.5" width="1.04" height="6.3" fill="#fff" opacity="0.75"/>
<rect x="102.7" y="1797.8" width="1.04" height="6.3" fill="#fff" opacity="0.75"/>
<rect x="104.8" y="1804.3" width="1.6" height="1" fill="#fff" opacity="0.7"/>
<rect x="122.7" y="1804.3" width="3.0" height="1" fill="#fff" opacity="0.7"/>
<rect x="153.4" y="1804.3" width="2.3" height="1" fill="#fff" opacity="0.7"/>
<rect x="174.9" y="1804.3" width="3.7" height="1" fill="#fff" opacity="0.7"/>
<use href="#m" x="110.9" y="1493.6"/>
<use href="#m" x="130.6" y="1521.4"/>
<use href="#m" x="132" y="1544.5"/>
<use href="#m" x="121.7" y="1550.7"/>
<use href="#m" x="127.9" y="1550.7"/>
<use href="#m" x="171.2" y="1539.6"/>
<use href="#m" x="204.3" y="1568.3"/>
<use href="#m" x="234.1" y="1565.6"/>
<use href="#m" x="411.6" y="1546.7"/>
<use href="#m" x="525.8" y="1559.6"/>
<use href="#m" x="562" y="1556.8"/>
<use href="#m" x="667.5" y="1528.9"/>
<use href="#m" x="676.1" y="1539"/>
</svg>
<g stroke="#000" stroke-width="2" fill="none" stroke-linecap="butt">
<path d="M98.1 20.5V470.6M1083.2 20.5V470.6"/>
<path d="M83.6 21.5H1084.2"/>
<path d="M168.46 21.5v8M238.83 21.5v15M309.19 21.5v8M379.56 21.5v15M449.92 21.5v8M520.29 21.5v15M590.65 21.5v8M661.01 21.5v15M731.38 21.5v8M801.74 21.5v15M872.11 21.5v8M942.47 21.5v15M1012.84 21.5v8"/>
<path d="M98.1 454.50h-14.5M1083.2 454.50h-16.0M98.1 382.70h-7.5M1083.2 382.70h-9.0M98.1 310.90h-14.5M1083.2 310.90h-16.0M98.1 239.10h-7.5M1083.2 239.10h-9.0M98.1 167.30h-14.5M1083.2 167.30h-16.0M98.1 95.50h-7.5M1083.2 95.50h-9.0"/>
<path d="M98.1 468.6V918.2M1083.2 468.6V918.2"/>
<path d="M83.6 469.6H1084.2"/>
<path d="M168.46 469.6v8M238.83 469.6v15M309.19 469.6v8M379.56 469.6v15M449.92 469.6v8M520.29 469.6v15M590.65 469.6v8M661.01 469.6v15M731.38 469.6v8M801.74 469.6v15M872.11 469.6v8M942.47 469.6v15M1012.84 469.6v8"/>
<path d="M98.1 904.50h-14.5M1083.2 904.50h-16.0M98.1 832.70h-7.5M1083.2 832.70h-9.0M98.1 760.90h-14.5M1083.2 760.90h-16.0M98.1 689.10h-7.5M1083.2 689.10h-9.0M98.1 617.30h-14.5M1083.2 617.30h-16.0M98.1 545.50h-7.5M1083.2 545.50h-9.0"/>
<path d="M98.1 916.2V1365.0M1083.2 916.2V1365.0"/>
<path d="M83.6 917.2H1084.2"/>
<path d="M168.46 917.2v8M238.83 917.2v15M309.19 917.2v8M379.56 917.2v15M449.92 917.2v8M520.29 917.2v15M590.65 917.2v8M661.01 917.2v15M731.38 917.2v8M801.74 917.2v15M872.11 917.2v8M942.47 917.2v15M1012.84 917.2v8"/>
<path d="M98.1 1349.50h-14.5M1083.2 1349.50h-16.0M98.1 1277.75h-7.5M1083.2 1277.75h-9.0M98.1 1206.00h-14.5M1083.2 1206.00h-16.0M98.1 1134.25h-7.5M1083.2 1134.25h-9.0M98.1 1062.50h-14.5M1083.2 1062.50h-16.0M98.1 990.75h-7.5M1083.2 990.75h-9.0"/>
<path d="M98.1 1363.0V1812.6M1083.2 1363.0V1812.6"/>
<path d="M83.6 1364.0H1084.2"/>
<path d="M168.46 1364.0v8M238.83 1364.0v15M309.19 1364.0v8M379.56 1364.0v15M449.92 1364.0v8M520.29 1364.0v15M590.65 1364.0v8M661.01 1364.0v15M731.38 1364.0v8M801.74 1364.0v15M872.11 1364.0v8M942.47 1364.0v15M1012.84 1364.0v8"/>
<path d="M98.1 1797.60h-14.5M1083.2 1797.60h-16.0M98.1 1725.75h-7.5M1083.2 1725.75h-9.0M98.1 1653.90h-14.5M1083.2 1653.90h-16.0M98.1 1582.05h-7.5M1083.2 1582.05h-9.0M98.1 1510.20h-14.5M1083.2 1510.20h-16.0M98.1 1438.35h-7.5M1083.2 1438.35h-9.0"/>
<path d="M97.1 1811.6H1084.2"/>
<path d="M98.10 1811.6v16M168.46 1811.6v9M238.83 1811.6v16M309.19 1811.6v9M379.56 1811.6v16M449.92 1811.6v9M520.29 1811.6v16M590.65 1811.6v9M661.01 1811.6v16M731.38 1811.6v9M801.74 1811.6v16M872.11 1811.6v9M942.47 1811.6v16M1012.84 1811.6v9M1083.20 1811.6v16"/>
</g>
<text class="tk" x="72.8" y="30.9" text-anchor="end">3</text>
<text class="tk" x="72.8" y="174.1" text-anchor="end">2</text>
<text class="tk" x="72.8" y="317.7" text-anchor="end">1</text>
<text class="tk" x="72.8" y="479.0" text-anchor="end">3</text>
<text class="tk" x="72.8" y="624.1" text-anchor="end">2</text>
<text class="tk" x="72.8" y="767.7" text-anchor="end">1</text>
<text class="tk" x="72.8" y="926.6" text-anchor="end">3</text>
<text class="tk" x="72.8" y="1069.3" text-anchor="end">2</text>
<text class="tk" x="72.8" y="1212.8" text-anchor="end">1</text>
<text class="tk" x="72.8" y="1373.4" text-anchor="end">3</text>
<text class="tk" x="72.8" y="1517.0" text-anchor="end">2</text>
<text class="tk" x="72.8" y="1660.7" text-anchor="end">1</text>
<text class="tk" x="72.8" y="1804.4" text-anchor="end">0</text>
<text class="tk" x="96.9" y="1856.8" text-anchor="middle">0</text>
<text class="tk" x="237.6" y="1856.8" text-anchor="middle">10</text>
<text class="tk" x="378.4" y="1856.8" text-anchor="middle">20</text>
<text class="tk" x="519.1" y="1856.8" text-anchor="middle">30</text>
<text class="tk" x="659.8" y="1856.8" text-anchor="middle">40</text>
<text class="tk" x="800.5" y="1856.8" text-anchor="middle">50</text>
<text class="tk" x="941.3" y="1856.8" text-anchor="middle">60</text>
<text class="tk" x="1082.0" y="1856.8" text-anchor="middle">70</text>
<text class="ax" font-size="34.5" x="590.9" y="1913.9" text-anchor="middle">Depth (nm)</text>
<text class="ax" font-size="35" transform="translate(33.5 242.1) rotate(-90)" text-anchor="middle">Intensity (counts)</text>
<text class="ax" font-size="35" transform="translate(33.5 692.1) rotate(-90)" text-anchor="middle">Intensity (counts)</text>
<text class="ax" font-size="35" transform="translate(33.5 1137.6) rotate(-90)" text-anchor="middle">Intensity (counts)</text>
<text class="ax" font-size="35" transform="translate(33.5 1582.6) rotate(-90)" text-anchor="middle">Intensity (counts)</text>
<rect x="828.4" y="40.3" width="242.10000000000002" height="46.5" fill="#fff" stroke="#8a8a8a" stroke-width="1.4"/>
<use href="#s" x="878" y="64.5"/>
<text class="lg" x="1059.8" y="75.6" text-anchor="end">unetched</text>
<text class="tg" font-size="61" stroke-width="1.8" x="979.3 1001.5 1041.2" y="147.3">(a)</text>
<rect x="798.9" y="492.4" width="271.4" height="46.89999999999998" fill="#fff" stroke="#8a8a8a" stroke-width="1.4"/>
<use href="#s" x="850.4" y="517"/>
<text class="lg" x="1060.3" y="528" text-anchor="end">2µm etched</text>
<text class="tg" font-size="61" stroke-width="1.8" x="979.3 1002.5 1041.2" y="603.3">(b)</text>
<rect x="798.9" y="942.9" width="271.4" height="46.5" fill="#fff" stroke="#8a8a8a" stroke-width="1.4"/>
<use href="#s" x="849.6" y="966.2"/>
<text class="lg" x="1060.3" y="977.5" text-anchor="end">6µm etched</text>
<text class="tg" font-size="60" stroke-width="3.0" x="980 1003.2 1038" y="1059.2">(c)</text>
<rect x="781.9" y="1391.4" width="288.4" height="46.5" fill="#fff" stroke="#8a8a8a" stroke-width="1.4"/>
<use href="#s" x="832.8" y="1415.2"/>
<text class="lg" x="1060.0" y="1425.9" text-anchor="end">10µm etched</text>
<text class="tg" font-size="61" stroke-width="1.8" x="979.3 1002.5 1041.2" y="1515.1">(d)</text>
</svg></body></html>
